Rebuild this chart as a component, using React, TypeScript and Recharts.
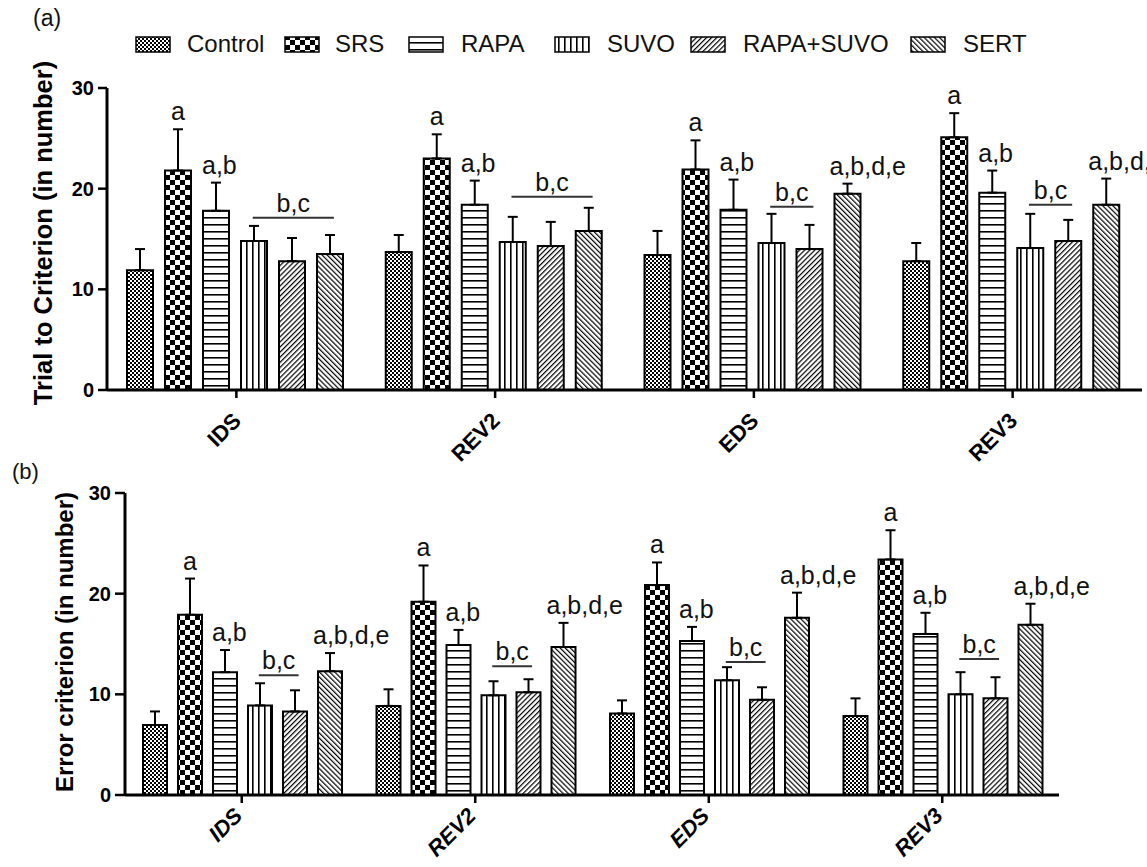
import React from "react";
import { BarChart, Bar, XAxis, YAxis, ErrorBar, LabelList } from "recharts";

const FONT = "'Liberation Sans', Arial, sans-serif";

const TASKS = ["IDS", "REV2", "EDS", "REV3"];
const GROUPS = ["Control", "SRS", "RAPA", "SUVO", "RAPA+SUVO", "SERT"];
const KEYS = ["control", "srs", "rapa", "suvo", "rapaSuvo", "sert"];

// (a) trial to criterion: mean per group, one value per task
const trialControl = [11.9, 13.7, 13.4, 12.8];
const trialSrs = [21.8, 23.0, 21.9, 25.1];
const trialRapa = [17.8, 18.4, 17.9, 19.6];
const trialSuvo = [14.8, 14.7, 14.6, 14.1];
const trialRapaSuvo = [12.8, 14.3, 14.0, 14.8];
const trialSert = [13.5, 15.8, 19.5, 18.4];
// (a) SEM
const trialControlSem = [2.1, 1.7, 2.4, 1.8];
const trialSrsSem = [4.1, 2.4, 2.9, 2.4];
const trialRapaSem = [2.8, 2.4, 3.0, 2.2];
const trialSuvoSem = [1.5, 2.5, 2.9, 3.4];
const trialRapaSuvoSem = [2.3, 2.4, 2.4, 2.1];
const trialSertSem = [1.9, 2.3, 1.0, 2.6];

// (b) error criterion
const errControl = [6.95, 8.85, 8.1, 7.85];
const errSrs = [17.9, 19.2, 20.85, 23.4];
const errRapa = [12.2, 14.9, 15.3, 16.0];
const errSuvo = [8.9, 9.9, 11.4, 10.0];
const errRapaSuvo = [8.3, 10.2, 9.45, 9.6];
const errSert = [12.3, 14.7, 17.6, 16.9];
const errControlSem = [1.35, 1.65, 1.3, 1.75];
const errSrsSem = [3.6, 3.6, 2.25, 2.9];
const errRapaSem = [2.2, 1.5, 1.4, 2.1];
const errSuvoSem = [2.2, 1.4, 1.3, 2.2];
const errRapaSuvoSem = [2.1, 1.3, 1.25, 2.1];
const errSertSem = [1.8, 2.4, 2.5, 2.1];

// significance letters per group (index = task)
const trialLabels = [
  ["", "", "", ""],
  ["a", "a", "a", "a"],
  ["a,b", "a,b", "a,b", "a,b"],
  ["", "", "", ""],
  ["", "", "", ""],
  ["", "", "a,b,d,e", "a,b,d,e"],
];
const errLabels = [
  ["", "", "", ""],
  ["a", "a", "a", "a"],
  ["a,b", "a,b", "a,b", "a,b"],
  ["", "", "", ""],
  ["", "", "", ""],
  ["a,b,d,e", "a,b,d,e", "a,b,d,e", "a,b,d,e"],
];

// "b,c" bars: first group, last group, height (in data units)
const trialBracketFrom = [3, 3, 3, 3];
const trialBracketTo = [5, 5, 4, 4];
const trialBracketAt = [17.1, 19.2, 18.2, 18.4];
const errBracketFrom = [3, 3, 3, 3];
const errBracketTo = [4, 4, 4, 4];
const errBracketAt = [11.9, 12.8, 13.2, 13.5];

const Y_TICKS = [0, 10, 20, 30];

function Patterns({ p }: { p: string }) {
  return (
    <defs>
      <pattern id={`${p}-control`} width={4} height={4} patternUnits="userSpaceOnUse">
        <rect width={4} height={4} fill="#fff" />
        <rect width={2} height={2} fill="#000" />
        <rect x={2} y={2} width={2} height={2} fill="#000" />
      </pattern>
      <pattern id={`${p}-srs`} width={10} height={10} patternUnits="userSpaceOnUse">
        <rect width={10} height={10} fill="#fff" />
        <rect width={5} height={5} fill="#000" />
        <rect x={5} y={5} width={5} height={5} fill="#000" />
      </pattern>
      <pattern id={`${p}-rapa`} width={7} height={7} patternUnits="userSpaceOnUse">
        <rect width={7} height={7} fill="#fff" />
        <rect width={7} height={1.6} fill="#000" />
      </pattern>
      <pattern id={`${p}-suvo`} width={6} height={6} patternUnits="userSpaceOnUse">
        <rect width={6} height={6} fill="#fff" />
        <rect width={1.6} height={6} fill="#000" />
      </pattern>
      <pattern id={`${p}-rapaSuvo`} width={3.6} height={4} patternUnits="userSpaceOnUse" patternTransform="rotate(45)">
        <rect width={3.6} height={4} fill="#fff" />
        <rect width={1.2} height={4} fill="#000" />
      </pattern>
      <pattern id={`${p}-sert`} width={3.6} height={4} patternUnits="userSpaceOnUse" patternTransform="rotate(-45)">
        <rect width={3.6} height={4} fill="#fff" />
        <rect width={1.2} height={4} fill="#000" />
      </pattern>
    </defs>
  );
}

const buildRows = (means: number[][], sems: number[][]) =>
  TASKS.map((task, i) => {
    const row: Record<string, any> = { task };
    KEYS.forEach((k, s) => {
      row[k] = means[s][i];
      row[k + "Err"] = [0, sems[s][i]];
    });
    return row;
  });

const box = (props: any) => props.viewBox ?? props;

const sigLabel = (labels: string[], sems: number[], values: number[]) => (props: any) => {
  const { x, y, width, height } = box(props);
  const i = props.index;
  const text = labels[i];
  if (!text) return null;
  const top = y - sems[i] * (height / values[i]);
  const long = text.length > 1;
  return (
    <text
      x={long ? x - (text.length > 3 ? 5 : 1) : x + width / 2}
      y={top - 9}
      textAnchor={long ? "start" : "middle"}
      fontSize={25}
      fontFamily={FONT}
      fill="#111"
    >
      {text}
    </text>
  );
};

const bracketLabel =
  (s: number, from: number[], to: number[], at: number[], values: number[], gap: number) => (props: any) => {
    const { x, y, width, height } = box(props);
    const i = props.index;
    if (from[i] !== s) return null;
    const base = y + height;
    const ly = base - at[i] * (height / values[i]);
    const x1 = x + width * 0.45;
    const x2 = x + (to[i] - from[i]) * (width + gap) + width * 0.65;
    return (
      <g>
        <line x1={x1} x2={x2} y1={ly} y2={ly} stroke="#333" strokeWidth={2} />
        <text x={(x1 + x2) / 2} y={ly - 6} textAnchor="middle" fontSize={25} fontFamily={FONT} fill="#111">
          b,c
        </text>
      </g>
    );
  };

const CatTick = (props: any) => {
  const { x, y, payload, ox, oy, italic } = props;
  const ax = x + ox;
  const ay = y + oy;
  return (
    <text
      x={ax}
      y={ay}
      transform={`rotate(-45 ${ax} ${ay})`}
      textAnchor="end"
      fontSize={22}
      fontWeight="bold"
      fontStyle={italic ? "italic" : "normal"}
      fontFamily={FONT}
      fill="#000"
    >
      {payload.value}
    </text>
  );
};

type PanelProps = {
  id: string;
  top: number;
  height: number;
  margin: { top: number; right: number; bottom: number; left: number };
  xHeight: number;
  means: number[][];
  sems: number[][];
  labels: string[][];
  bFrom: number[];
  bTo: number[];
  bAt: number[];
  barGap: number;
  catGap: number;
  yTickSize: number;
  tickOx: number;
  tickOy: number;
  italic: boolean;
};

function Panel(p: PanelProps) {
  const rows = buildRows(p.means, p.sems);
  return (
    <div style={{ position: "absolute", left: 0, top: p.top }}>
      <BarChart
        width={1147}
        height={p.height}
        data={rows}
        margin={p.margin}
        barGap={p.barGap}
        barCategoryGap={p.catGap}
      >
        <Patterns p={p.id} />
        <XAxis
          dataKey="task"
          height={p.xHeight}
          axisLine={{ stroke: "#000", strokeWidth: 3 }}
          tickLine={{ stroke: "#000", strokeWidth: 2.5 }}
          tickSize={8}
          interval={0}
          tick={(t: any) => <CatTick {...t} ox={p.tickOx} oy={p.tickOy} italic={p.italic} />}
        />
        <YAxis
          width={60}
          domain={[0, 30]}
          ticks={Y_TICKS}
          interval={0}
          axisLine={{ stroke: "#000", strokeWidth: 3 }}
          tickLine={{ stroke: "#000", strokeWidth: 2.5 }}
          tickSize={p.yTickSize}
          tickMargin={4}
          tick={{ fontSize: 20, fontWeight: "bold", fill: "#000", fontFamily: FONT }}
        />
        {KEYS.map((k, s) => (
          <Bar
            key={k}
            dataKey={k}
            name={GROUPS[s]}
            fill={`url(#${p.id}-${k})`}
            stroke="#000"
            strokeWidth={2}
            isAnimationActive={false}
          >
            <ErrorBar
              dataKey={k + "Err"}
              direction="y"
              width={5}
              stroke="#000"
              strokeWidth={2}
              isAnimationActive={false}
            />
            <LabelList content={sigLabel(p.labels[s], p.sems[s], p.means[s])} />
            <LabelList content={bracketLabel(s, p.bFrom, p.bTo, p.bAt, p.means[s], p.barGap)} />
          </Bar>
        ))}
      </BarChart>
    </div>
  );
}

// legend layout: swatch x, text x
const LEGEND_LAYOUT = [
  { sx: 136, tx: 187 },
  { sx: 285, tx: 335 },
  { sx: 409, tx: 461 },
  { sx: 555, tx: 607 },
  { sx: 691, tx: 743 },
  { sx: 911, tx: 963 },
];

export default function App() {
  return (
    <div style={{ position: "absolute", left: 0, top: 0, width: 1147, height: 867, background: "#fff" }}>
      <Panel
        id="pa"
        top={0}
        height={470}
        margin={{ top: 88, right: 5, bottom: 0, left: 47 }}
        xHeight={80}
        means={[trialControl, trialSrs, trialRapa, trialSuvo, trialRapaSuvo, trialSert]}
        sems={[trialControlSem, trialSrsSem, trialRapaSem, trialSuvoSem, trialRapaSuvoSem, trialSertSem]}
        labels={trialLabels}
        bFrom={trialBracketFrom}
        bTo={trialBracketTo}
        bAt={trialBracketAt}
        barGap={12}
        catGap={20}
        yTickSize={9}
        tickOx={6}
        tickOy={22}
        italic={false}
      />
      <Panel
        id="pb"
        top={440}
        height={427}
        margin={{ top: 53, right: 88, bottom: 0, left: 65 }}
        xHeight={72}
        means={[errControl, errSrs, errRapa, errSuvo, errRapaSuvo, errSert]}
        sems={[errControlSem, errSrsSem, errRapaSem, errSuvoSem, errRapaSuvoSem, errSertSem]}
        labels={errLabels}
        bFrom={errBracketFrom}
        bTo={errBracketTo}
        bAt={errBracketAt}
        barGap={11}
        catGap={18}
        yTickSize={10}
        tickOx={2}
        tickOy={12}
        italic={true}
      />
      <svg
        width={1147}
        height={867}
        style={{ position: "absolute", left: 0, top: 0, pointerEvents: "none" }}
        fontFamily={FONT}
      >
        <Patterns p="lg" />
        <text x={33} y={26} fontSize={23} fill="#111">(a)</text>
        <text x={12} y={479} fontSize={22} fill="#111">(b)</text>
        <text x={52} y={233} transform="rotate(-90 52 233)" textAnchor="middle" fontSize={25.5} fontWeight="bold" fill="#000">
          Trial to Criterion (in number)
        </text>
        <text x={73} y={642} transform="rotate(-90 73 642)" textAnchor="middle" fontSize={24} fontWeight="bold" fill="#000">
          Error criterion (in number)
        </text>
        {GROUPS.map((g, s) => {
          const l = LEGEND_LAYOUT[s];
          return (
            <g key={g}>
              <rect x={l.sx} y={37} width={34} height={15} fill={`url(#lg-${KEYS[s]})`} stroke="#000" strokeWidth={1.5} />
              <text x={l.tx} y={52} fontSize={24} fill="#111">{g}</text>
            </g>
          );
        })}
      </svg>
    </div>
  );
}
